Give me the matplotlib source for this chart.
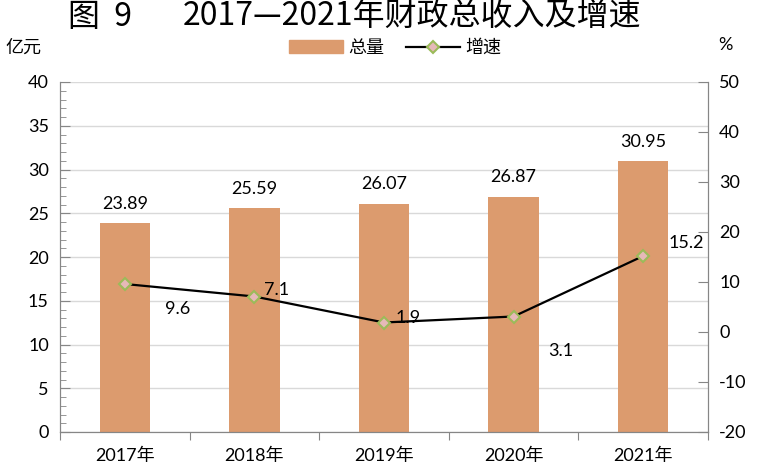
import matplotlib.pyplot as plt
from matplotlib.ticker import MultipleLocator

plt.rcParams['font.family'] = ['Lato', 'Noto Sans CJK SC', 'DejaVu Sans']
plt.rcParams['axes.unicode_minus'] = False

years = ['2017年', '2018年', '2019年', '2020年', '2021年']
total = [23.89, 25.59, 26.07, 26.87, 30.95]
growth = [9.6, 7.1, 1.9, 3.1, 15.2]
# label offsets in points for the growth labels
growth_offsets = [(38, -18), (16, 5), (17, 3), (34, -25), (31, 9)]

bar_color = '#DC9B6E'
axis_color = '#868686'

fig = plt.figure(figsize=(7.58, 4.67), dpi=100)
ax = fig.add_axes([60 / 758, 35 / 467, 648 / 758, 350 / 467])
ax2 = ax.twinx()

x = list(range(len(years)))
ax.bar(x, total, width=0.39, color=bar_color, zorder=2)
for i, v in enumerate(total):
    ax.annotate(f'{v:.2f}', (i, v), xytext=(0, 14), textcoords='offset points',
                ha='center', va='center', fontsize=13)

ax.set_xlim(-0.5, len(years) - 0.5)
ax.set_ylim(0, 40)
ax.yaxis.set_major_locator(MultipleLocator(5))
ax.yaxis.set_minor_locator(MultipleLocator(1))
ax.grid(axis='y', color='#D9D9D9', linewidth=1, zorder=0)
ax.set_axisbelow(True)
ax.set_xticks([i - 0.5 for i in range(len(years) + 1)], minor=False)
ax.set_xticklabels([])
ax.set_xticks(x, minor=True)
ax.set_xticklabels(years, minor=True, fontsize=13)
ax.tick_params(axis='x', which='major', direction='out', length=6, color=axis_color)
ax.tick_params(axis='x', which='minor', length=0, pad=11)
ax.tick_params(axis='y', which='both', direction='in', color=axis_color, labelsize=13, pad=8)
ax.tick_params(axis='y', which='major', length=7)
ax.tick_params(axis='y', which='minor', length=4)

ax2.plot(x, growth, color='black', linewidth=1.6, marker='D', markersize=6,
         markerfacecolor='#E6B9B8', markeredgecolor='#9BBB59', markeredgewidth=1.5, zorder=3)
for i, v in enumerate(growth):
    dx, dy = growth_offsets[i]
    ax2.annotate(f'{v}', (i, v), xytext=(dx, dy), textcoords='offset points',
                 ha='center', va='center', fontsize=13)
ax2.set_ylim(-20, 50)
ax2.yaxis.set_major_locator(MultipleLocator(10))
ax2.tick_params(axis='y', direction='in', length=7, color=axis_color, labelsize=13, pad=8)

for a in (ax, ax2):
    a.spines['top'].set_visible(False)
    for s in ('left', 'right', 'bottom'):
        a.spines[s].set_color(axis_color)

title_font = ['Noto Sans CJK SC', 'DejaVu Sans']
fig.text(68 / 758, 1 - 17 / 467, '图  9', ha='left', va='center',
         fontsize=23, family=title_font)
fig.text(183 / 758, 1 - 17 / 467, '2017—2021年财政总收入及增速', ha='left', va='center',
         fontsize=23, family=title_font)
fig.text(5 / 758, 1 - 48 / 467, '亿元', ha='left', va='center', fontsize=13,
         family=['Noto Sans CJK SC'])
fig.text(718 / 758, 1 - 45 / 467, '%', ha='left', va='center', fontsize=13)

h1 = plt.Rectangle((0, 0), 1, 1, color=bar_color)
h2, = ax2.plot([], [], color='black', linewidth=1.6, marker='D', markersize=6,
               markerfacecolor='#E6B9B8', markeredgecolor='#9BBB59', markeredgewidth=1.5)
fig.legend([h1, h2], ['总量', '增速'], loc='center', bbox_to_anchor=(0.521, 1 - 48 / 467),
           ncol=2, frameon=False, handlelength=3, columnspacing=1.2, handletextpad=0.3,
           prop={'family': ['Noto Sans CJK SC'], 'size': 13})

fig.savefig('out.png', dpi=100)
